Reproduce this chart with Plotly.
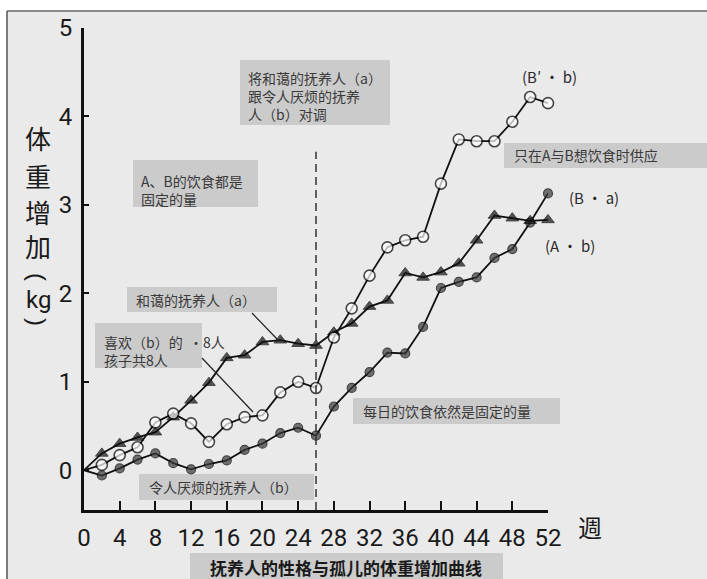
import plotly.graph_objects as go

W, H = 707, 579

weeks = list(range(0, 53, 2))
b_prime_b = [0, 0.06, 0.17, 0.26, 0.54, 0.64, 0.53, 0.32, 0.52, 0.60, 0.62, 0.88, 1.00, 0.93,
             1.50, 1.83, 2.20, 2.52, 2.60, 2.64, 3.24, 3.74, 3.72, 3.72, 3.94, 4.22, 4.15]
a_b = [0, 0.19, 0.30, 0.37, 0.43, 0.60, 0.79, 0.99, 1.27, 1.30, 1.45, 1.47, 1.43, 1.41,
       1.56, 1.66, 1.85, 1.92, 2.23, 2.18, 2.24, 2.34, 2.60, 2.88, 2.85, 2.82, 2.83]
b_a = [0, -0.06, 0.02, 0.12, 0.19, 0.08, 0.01, 0.07, 0.11, 0.23, 0.30, 0.42, 0.48, 0.39,
       0.72, 0.93, 1.11, 1.33, 1.32, 1.62, 2.06, 2.13, 2.18, 2.40, 2.50, 2.80, 3.13]

x_ticks = list(range(0, 53, 4))
y_ticks = [0, 1, 2, 3, 4, 5]
switch_week = 26


def px(x):
    return min(max(x / W, 0), 1)


def py(y):
    return min(max(1 - y / H, 0), 1)


def sizes(n, s):
    # no marker drawn at the common origin point
    return [0] + [s] * (n - 1)


fig = go.Figure()

fig.add_trace(go.Scatter(x=weeks, y=b_a, mode="lines+markers", cliponaxis=False,
                         line=dict(color="#111", width=1.8),
                         marker=dict(symbol="circle", size=sizes(len(weeks), 9), color="#3a3a3a",
                                     line=dict(color="#000", width=1.2)),
                         showlegend=False))
fig.add_trace(go.Scatter(x=weeks, y=a_b, mode="lines+markers", cliponaxis=False,
                         line=dict(color="#111", width=1.8),
                         marker=dict(symbol="triangle-up", size=sizes(len(weeks), 11), color="#111",
                                     line=dict(color="#000", width=1)),
                         showlegend=False))
fig.add_trace(go.Scatter(x=weeks, y=b_prime_b, mode="lines+markers", cliponaxis=False,
                         line=dict(color="#111", width=1.8),
                         marker=dict(symbol="circle", size=sizes(len(weeks), 11), color="white",
                                     line=dict(color="#000", width=1.6)),
                         showlegend=False))

shapes = []
shapes.append(dict(type="rect", xref="paper", yref="paper", x0=px(7), x1=1,
                   y0=0, y1=py(11), fillcolor="#eaeaea", line=dict(width=0), layer="below"))
shapes.append(dict(type="line", xref="paper", yref="paper", x0=px(7), x1=1,
                   y0=py(11), y1=py(11), line=dict(color="#666", width=1.5), layer="below"))
shapes.append(dict(type="line", xref="paper", yref="paper", x0=px(7), x1=px(7),
                   y0=0, y1=py(11), line=dict(color="#555", width=1.5), layer="below"))

boxes = [(240, 60, 390, 125), (133, 160, 258, 207), (504, 143, 707, 168),
         (127, 287, 277, 312), (95, 323, 202, 368), (139, 474, 314, 500),
         (353, 398, 560, 424), (190, 553, 503, 579)]
for x0, y0, x1, y1 in boxes:
    shapes.append(dict(type="rect", xref="paper", yref="paper", x0=px(x0), x1=px(x1),
                       y0=py(y0), y1=py(y1), fillcolor="#cbcbcb", line=dict(width=0),
                       layer="below"))

for x0, y0, x1, y1 in [(252, 313, 277, 339), (202, 358, 253, 412)]:
    shapes.append(dict(type="line", xref="paper", yref="paper", x0=px(x0), x1=px(x1),
                       y0=py(y0), y1=py(y1), line=dict(color="#222", width=1.2)))

shapes.append(dict(type="line", xref="x", yref="y", x0=switch_week, x1=switch_week,
                   y0=-0.45, y1=3.6, line=dict(color="#333", width=1.5, dash="8px,5px")))

cjk = "Noto Sans CJK SC"
anns = []


def txt(x, y, s, size=14, color="#3a3a3a", xanchor="left", bold=False, family=cjk, angle=0):
    anns.append(dict(x=px(x), y=py(y), xref="paper", yref="paper", text=s,
                     showarrow=False, xanchor=xanchor, yanchor="middle", align="left",
                     textangle=angle,
                     font=dict(family=family, size=size, color=color,
                               weight="bold" if bold else "normal")))


txt(246, 96, "将和蔼的抚养人（a）<br>跟令人厌烦的抚养<br>人（b）对调")
txt(139, 190, "A、B的饮食都是<br>固定的量")
txt(512, 155, "只在A与B想饮食时供应")
txt(134, 300, "和蔼的抚养人（a）")
txt(102, 351, "喜欢（b）的  ·8人<br>孩子共8人")
txt(147, 487, "令人厌烦的抚养人（b）")
txt(361, 411, "每日的饮食依然是固定的量")
txt(346, 567, "抚养人的性格与孤儿的体重增加曲线", size=17, color="#1a1a1a",
    xanchor="center", bold=True)

txt(549, 77, "(B′ · b)", size=15, color="#2a2a2a", xanchor="center")
txt(594, 197, "(B · a)", size=15, color="#2a2a2a", xanchor="center")
txt(570, 245, "(A · b)", size=15, color="#2a2a2a", xanchor="center")

for ch, y in [("体", 138), ("重", 175), ("增", 211), ("加", 246)]:
    txt(38, y, ch, size=26, color="#1a1a1a", xanchor="center")
txt(38, 277, "(", size=24, color="#1a1a1a", xanchor="center", family="Liberation Sans", angle=90)
txt(38, 300, "kg", size=24, color="#1a1a1a", xanchor="center", family="Roboto")
txt(38, 322, ")", size=24, color="#1a1a1a", xanchor="center", family="Liberation Sans", angle=90)

txt(590, 526, "週", size=24, color="#1a1a1a", xanchor="center")

num_font = dict(family="Roboto", size=24, color="#1a1a1a")

fig.update_layout(
    width=W, height=H,
    margin=dict(l=0, r=0, t=0, b=0, autoexpand=False),
    paper_bgcolor="white",
    plot_bgcolor="rgba(0,0,0,0)",
    shapes=shapes,
    annotations=anns,
    xaxis=dict(domain=[px(84), px(548)], range=[0, 52], tickvals=x_ticks,
               ticktext=[str(v) for v in x_ticks], ticks="inside", ticklen=9,
               tickwidth=1.5, tickcolor="#111", showline=True, linewidth=3,
               linecolor="#111", showgrid=False, zeroline=False, tickfont=num_font,
               ticklabelstandoff=4, automargin=False),
    yaxis=dict(domain=[py(510), py(28)], range=[-0.45, 5], tickvals=y_ticks,
               ticktext=[str(v) for v in y_ticks], ticks="inside", ticklen=5,
               tickwidth=1.5, tickcolor="#111", showline=True, linewidth=3,
               linecolor="#111", showgrid=False, zeroline=False, tickfont=num_font,
               ticklabelstandoff=4, automargin=False),
)

fig.write_html("out.html", config={"displayModeBar": False},
               post_script="document.body.style.margin='0';document.body.style.overflow='hidden';")
